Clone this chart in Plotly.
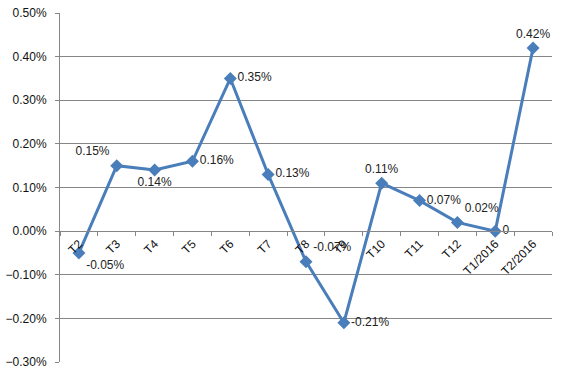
import plotly.graph_objects as go

categories = ["T2", "T3", "T4", "T5", "T6", "T7", "T8", "T9", "T10", "T11", "T12", "T1/2016", "T2/2016"]
values = [-0.05, 0.15, 0.14, 0.16, 0.35, 0.13, -0.07, -0.21, 0.11, 0.07, 0.02, 0.0, 0.42]
labels = ["-0.05%", "0.15%", "0.14%", "0.16%", "0.35%", "0.13%", "-0.07%", "-0.21%", "0.11%", "0.07%", "0.02%", "0", "0.42%"]
label_pos = ["bottom right", "top left", "bottom center", "middle right", "middle right", "middle right",
             "top right", "middle right", "top center", "middle right", "top right", "middle right", "top center"]

y_min, y_max = -0.3, 0.5

fig = go.Figure()
fig.add_trace(go.Scatter(
    x=categories, y=values, mode="lines+markers+text",
    text=labels, textposition=label_pos,
    textfont=dict(family="Liberation Sans, Arial, sans-serif", size=12, color="#222222"),
    line=dict(color="#4A7EBB", width=3),
    marker=dict(symbol="diamond", size=10, color="#4A7EBB"),
    cliponaxis=False, showlegend=False, hoverinfo="skip",
))

fig.update_layout(
    width=562, height=373,
    margin=dict(l=60, r=10, t=13, b=11),
    paper_bgcolor="white", plot_bgcolor="white",
    font=dict(family="Liberation Sans, Arial, sans-serif", size=12, color="#111111"),
    xaxis=dict(
        type="category", anchor="free", position=(0 - y_min) / (y_max - y_min),
        showline=True, linecolor="#868686", linewidth=1, automargin=False,
        showgrid=False, tickangle=-45, ticks="outside", ticklen=4, tickcolor="#868686",
        tickson="boundaries", range=[-0.5, len(categories) - 0.5],
        tickfont=dict(size=12, color="#111111"),
    ),
    yaxis=dict(
        range=[y_min, y_max], dtick=0.1, tick0=0, tickformat=".2f", ticksuffix="%",
        showgrid=True, gridcolor="#868686", gridwidth=1, zeroline=False, automargin=False,
        showline=True, linecolor="#868686", ticks="outside", ticklen=4, tickcolor="#868686",
        ticklabelstandoff=6,
        tickfont=dict(size=12, color="#111111"),
    ),
)

fig.write_html("out.html", config={"displayModeBar": False},
               post_script="document.body.style.margin='0';")
